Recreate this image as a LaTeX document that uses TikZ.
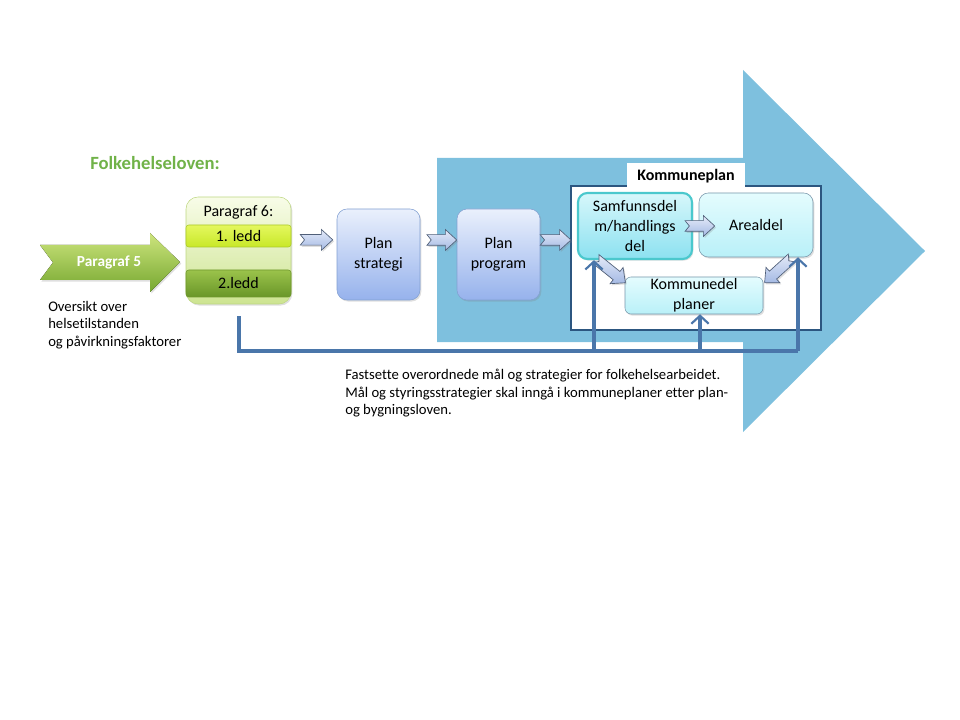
\documentclass[tikz,border=0pt]{standalone}
\usepackage{fontspec}
\setmainfont[Ligatures=NoCommon]{Carlito}
\usepackage{xcolor}
\usepackage{tikz}
\usetikzlibrary{positioning,arrows.meta,calc,shadows}

\definecolor{lawgreen}{RGB}{112,178,72}
\definecolor{bigblue}{RGB}{126,192,222}
\definecolor{busblue}{RGB}{74,118,170}
\definecolor{frameblue}{RGB}{44,86,128}
\definecolor{tealrim}{RGB}{75,200,205}

% block arrow between two named points
\newcommand{\blockarr}[2]{%
  \coordinate (ba-q) at ($(#2)!8.5pt!(#1)$);
  \draw[barrow] ($(#1)!4pt!90:(#2)$) -- ($(ba-q)!4pt!90:(#2)$)
    -- ($(ba-q)!7.8pt!90:(#2)$) -- (#2) -- ($(ba-q)!7.8pt!-90:(#2)$)
    -- ($(ba-q)!4pt!-90:(#2)$) -- ($(#1)!4pt!-90:(#2)$)
    -- ($(#1)!3.2pt!(#2)$) -- cycle;
}

\begin{document}
\begin{tikzpicture}[
  x=0.75pt, y=-0.75pt, >=Stealth,
  font=\fontsize{12}{15}\selectfont,
  txt/.style={inner sep=0pt, align=left, font=\fontsize{11}{13.1}\selectfont},
  shd/.style={drop shadow={opacity=0.25, shadow xshift=1pt, shadow yshift=-1.2pt}},
  parbox/.style={draw={rgb,255:red,190;green,215;blue,130}, rounded corners=9pt,
                 top color={rgb,255:red,248;green,252;blue,232},
                 bottom color={rgb,255:red,205;green,228;blue,145},
                 minimum width=78.75pt, minimum height=80.25pt, shd},
  ledd/.style={draw={rgb,255:red,170;green,200;blue,40}, rounded corners=2pt,
               top color={rgb,255:red,228;green,247;blue,95},
               bottom color={rgb,255:red,200;green,232;blue,40},
               minimum width=78.75pt, minimum height=16.5pt, inner sep=0pt},
  leddto/.style={draw={rgb,255:red,110;green,150;blue,45}, rounded corners=2pt,
                 top color={rgb,255:red,155;green,195;blue,75},
                 bottom color={rgb,255:red,105;green,150;blue,40},
                 minimum width=78.75pt, minimum height=20.25pt, inner sep=0pt},
  planbox/.style={draw={rgb,255:red,130;green,160;blue,210}, rounded corners=7.5pt,
                  top color={rgb,255:red,234;green,240;blue,252},
                  bottom color={rgb,255:red,150;green,178;blue,236},
                  align=center, minimum width=62.25pt, minimum height=68.25pt, shd},
  delbox/.style={draw={rgb,255:red,120;green,150;blue,170}, rounded corners=7pt,
                 top color={rgb,255:red,228;green,252;blue,254},
                 bottom color={rgb,255:red,185;green,240;blue,248},
                 align=center, inner sep=1pt, shd},
  barrow/.style={draw={rgb,255:red,80;green,95;blue,120}, line width=0.5pt,
                 top color={rgb,255:red,228;green,234;blue,248},
                 bottom color={rgb,255:red,165;green,186;blue,228}, shd},
  fb/.style={draw=busblue, line width=3pt},
  fbarr/.style={fb, -{Straight Barb[length=6pt, width=13pt, line width=1.6pt]}},
]
\useasboundingbox (0,0) rectangle (960,720);

% big blue arrow
\fill[bigblue] (437,158) -- (743,158) -- (743,70) -- (925,251)
  -- (743,432) -- (743,342) -- (437,342) -- cycle;

\node[anchor=west, inner sep=0pt, text=lawgreen, font=\fontsize{14}{16}\selectfont\bfseries]
  (title) at (90,163) {Folkehelseloven:};

% Paragraf 5
\fill[top color={rgb,255:red,205;green,228;blue,125},
      bottom color={rgb,255:red,118;green,168;blue,48}, shd]
  (40,245) -- (150,245) -- (150,233) -- (180,262) -- (150,292)
  -- (150,280) -- (40,280) -- (53,262.5) -- cycle;
\node[text=white, font=\fontsize{11.5}{13}\selectfont\bfseries] (p5) at (109,262) {Paragraf 5};
\node[txt, anchor=north west] (ov) at (48,301)
  {Oversikt over\\helsetilstanden\\og påvirkningsfaktorer};

% Paragraf 6
\node[parbox, label={[anchor=north, yshift=-3pt]north:{Paragraf 6:}}] (p6) at (238.5,250.5) {};
\node[ledd]   (l1) at (238.5,236)   {1. ledd};
\node[leddto] (l2) at (238.5,283.5) {2.ledd};

\node[planbox] (ps) at (378.5,254.5) {Plan\\strategi};
\node[planbox] (pp) at (498.5,254.5) {Plan\\program};

% Kommuneplan
\node[draw=frameblue, line width=2.2pt, fill=white, minimum width=187.5pt,
      minimum height=108pt] (kp) at (696,258) {};
\node[fill=white, minimum width=88.5pt, minimum height=20.25pt,
      font=\fontsize{12}{14}\selectfont\bfseries] (kpl) at (686,176.5) {Kommuneplan};
\node[delbox, draw=tealrim, line width=1.6pt,
      top color={rgb,255:red,215;green,247;blue,251},
      bottom color={rgb,255:red,140;green,225;blue,240},
      minimum width=85.5pt, minimum height=49.5pt] (sd) at (635,226)
  {Samfunnsdel\\m/handlings\\del};
\node[delbox, minimum width=85.5pt, minimum height=48pt] (ar) at (756,225) {Arealdel};
\node[delbox, rounded corners=4.5pt, minimum width=103.5pt, minimum height=27.75pt]
  (kd) at (694,295.5) {Kommunedel\\planer};

% block arrows
\coordinate (a1e) at ($(ps.west)+(-3pt,11pt)$);
\coordinate (a1s) at ($(a1e -| p6.east)+(6.75pt,0)$);
\coordinate (a2e) at ($(pp.west)+(0,10.9pt)$);
\coordinate (a2s) at ($(a2e -| ps.east)+(5pt,0)$);
\coordinate (a3s) at ($(pp.east)+(0,10.9pt)$);
\coordinate (a3e) at ($(a3s -| sd.west)+(-4.5pt,0)$);
\coordinate (a4s) at ($(sd.east)+(-6pt,0)$);
\coordinate (a4e) at ($(a4s -| ar.west)+(12pt,0)$);
\coordinate (a5s) at ($(sd.south west)+(14pt,1pt)$);
\coordinate (a5e) at ($(kd.north west)+(0.5pt,-4.5pt)$);
\coordinate (a6s) at ($(ar.south east)+(-16pt,-0.5pt)$);
\coordinate (a6e) at ($(kd.north east)+(1pt,-4.5pt)$);
\blockarr{a1s}{a1e}
\blockarr{a2s}{a2e}
\blockarr{a3s}{a3e}
\blockarr{a4s}{a4e}
\blockarr{a5s}{a5e}
\blockarr{a6s}{a6e}

% feedback bus
\coordinate (j1) at (594,351);
\coordinate (j2) at (700,351);
\coordinate (j3) at (798,351);
\draw[fb] ($(p6.south)+(0,-9pt)$) |- (j3);
\draw[fbarr] (j1) -- (j1 |- sd.south);
\draw[fbarr] (j2) -- (j2 |- kd.south);
\draw[fbarr] (j3) -- (j3 |- ar.south);

\node[txt, anchor=north west] (mal) at (345,369)
  {Fastsette overordnede mål og strategier for folkehelsearbeidet.\\
   Mål og styringsstrategier skal inngå i kommuneplaner etter plan-\\
   og bygningsloven.};
\end{tikzpicture}
\end{document}
